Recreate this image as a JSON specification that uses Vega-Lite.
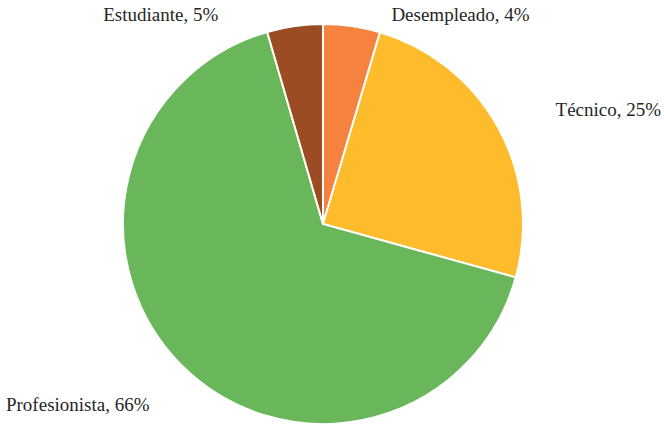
{
  "$schema": "https://vega.github.io/schema/vega-lite/v6.json",
  "autosize": "none",
  "width": 400,
  "height": 400,
  "padding": {"left": 123, "top": 24, "right": 141, "bottom": 1},
  "background": "white",
  "data": {
    "values": [
      {"categoria": "Desempleado", "porcentaje": 4.6, "orden": 1, "etiqueta": "Desempleado, 4%"},
      {"categoria": "Técnico", "porcentaje": 24.7, "orden": 2, "etiqueta": "Técnico, 25%"},
      {"categoria": "Profesionista", "porcentaje": 66.2, "orden": 3, "etiqueta": "Profesionista, 66%"},
      {"categoria": "Estudiante", "porcentaje": 4.5, "orden": 4, "etiqueta": "Estudiante, 5%"}
    ]
  },
  "encoding": {
    "theta": {"field": "porcentaje", "type": "quantitative", "stack": true},
    "order": {"field": "orden", "type": "quantitative"}
  },
  "layer": [
    {
      "mark": {"type": "arc", "outerRadius": 200, "stroke": "white", "strokeWidth": 2},
      "encoding": {
        "color": {
          "field": "categoria",
          "type": "nominal",
          "scale": {
            "domain": ["Desempleado", "Técnico", "Profesionista", "Estudiante"],
            "range": ["#F5823F", "#FEBB2B", "#6AB75B", "#9B4C22"]
          },
          "legend": null
        }
      }
    },
    {
      "mark": {"type": "text", "radius": 211, "dx": 38, "align": "left", "baseline": "middle", "font": "Liberation Serif", "fontSize": 19, "color": "#262626"},
      "encoding": {
        "text": {"condition": {"test": "datum.categoria === 'Desempleado'", "field": "etiqueta"}, "value": ""}
      }
    },
    {
      "mark": {"type": "text", "radius": 235, "dx": 27, "align": "left", "baseline": "middle", "font": "Liberation Serif", "fontSize": 19, "color": "#262626"},
      "encoding": {
        "text": {"condition": {"test": "datum.categoria === 'Técnico'", "field": "etiqueta"}, "value": ""}
      }
    },
    {
      "mark": {"type": "text", "radius": 254, "dx": 5, "align": "right", "baseline": "middle", "font": "Liberation Serif", "fontSize": 19, "color": "#262626"},
      "encoding": {
        "text": {"condition": {"test": "datum.categoria === 'Profesionista'", "field": "etiqueta"}, "value": ""}
      }
    },
    {
      "mark": {"type": "text", "radius": 211, "dx": -75, "align": "right", "baseline": "middle", "font": "Liberation Serif", "fontSize": 19, "color": "#262626"},
      "encoding": {
        "text": {"condition": {"test": "datum.categoria === 'Estudiante'", "field": "etiqueta"}, "value": ""}
      }
    }
  ]
}
